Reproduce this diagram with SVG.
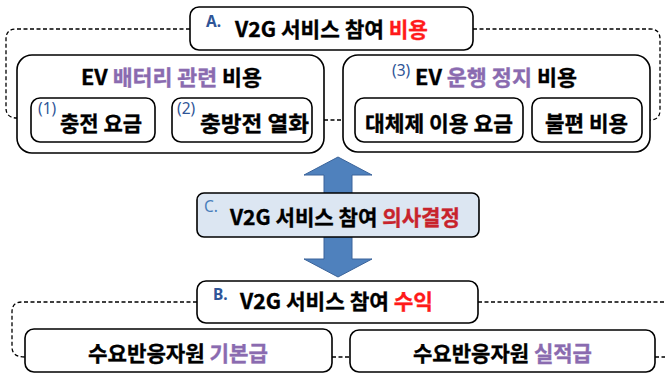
<svg xmlns="http://www.w3.org/2000/svg" width="665" height="375" viewBox="0 0 665 375">
<style>
.box{fill:#fff;stroke:#000;stroke-width:1.6}
.dash{fill:none;stroke:#000;stroke-width:1.3;stroke-dasharray:4 2.5}
.t{font-family:"Noto Sans CJK KR","Noto Sans",sans-serif;font-weight:700;font-size:21px;fill:#000;stroke:#000;stroke-width:0.35}
.s{font-family:"Noto Sans","Noto Sans CJK KR",sans-serif;font-size:15.5px;fill:#2f5597}
.red{fill:#ff1a1a;stroke:#ff1a1a}
.dred{fill:#c8232c;stroke:#c8232c}
.pur{fill:#8a6bb0;stroke:#8a6bb0}
</style>
<g id="connectors">
<path class="dash" d="M190,29 H16 Q6,29 6,39 V108 Q6,118 17,118"/>
<path class="dash" d="M473,29 H650 Q660,29 660,39 V110 Q660,120 650,120"/>
<path class="dash" d="M324,120 H343"/>
<path class="dash" d="M197,302 H22 Q12,302 12,312 V347 Q12,357 25,357"/>
<path class="dash" d="M478,302 H665"/>
<path class="dash" d="M332,357 H350"/>
<path class="dash" d="M655,357 H665"/>
<path id="arrow" d="M338,157 L372,175 L352,175 L352,259 L372,259 L338,277 L304,259 L324,259 L324,175 L304,175 Z" fill="#4f81bd" stroke="#3a639a" stroke-width="1"/>
</g>
<g id="nodeA">
<rect class="box" x="190" y="7" width="283" height="43" rx="9"/>
<text class="s" x="206" y="27" style="font-weight:700">A.</text>
<text class="t" x="235" y="37" textLength="193" lengthAdjust="spacingAndGlyphs">V2G 서비스 참여 <tspan class="red">비용</tspan></text>
</g>
<g id="nodeBattery">
<rect class="box" x="17" y="55" width="307" height="98" rx="15"/>
<text class="t" x="81" y="85" textLength="181" lengthAdjust="spacingAndGlyphs">EV <tspan class="pur">배터리 관련</tspan> 비용</text>
</g>
<g id="node1">
<rect class="box" x="31" y="98" width="124" height="44" rx="9"/>
<text class="s" x="38" y="114">(1)</text>
<text class="t" x="60" y="131" textLength="82" lengthAdjust="spacingAndGlyphs">충전 요금</text>
</g>
<g id="node2">
<rect class="box" x="172" y="98" width="140" height="44" rx="9"/>
<text class="s" x="177" y="114">(2)</text>
<text class="t" x="200" y="131" textLength="109" lengthAdjust="spacingAndGlyphs">충방전 열화</text>
</g>
<g id="nodeStop">
<rect class="box" x="343" y="55" width="307" height="97" rx="15"/>
<text class="s" x="392" y="76">(3)</text>
<text class="t" x="415" y="85" textLength="162" lengthAdjust="spacingAndGlyphs">EV <tspan class="pur">운행 정지</tspan> 비용</text>
</g>
<g id="node3a">
<rect class="box" x="355" y="98" width="168" height="44" rx="9"/>
<text class="t" x="365" y="131" textLength="148" lengthAdjust="spacingAndGlyphs">대체제 이용 요금</text>
</g>
<g id="node3b">
<rect class="box" x="532" y="98" width="110" height="44" rx="9"/>
<text class="t" x="545" y="131" textLength="83" lengthAdjust="spacingAndGlyphs">불편 비용</text>
</g>
<g id="nodeC">
<rect x="197" y="193" width="282" height="44" rx="7" fill="#dce6f2" stroke="#000" stroke-width="1.6"/>
<text class="s" x="204" y="212" style="fill:#4a7ebb">C.</text>
<text class="t" x="230" y="225" textLength="230" lengthAdjust="spacingAndGlyphs">V2G 서비스 참여 <tspan class="dred">의사결정</tspan></text>
</g>
<g id="nodeB">
<rect class="box" x="197" y="281" width="281" height="42" rx="9"/>
<text class="s" x="213" y="300" style="font-weight:700">B.</text>
<text class="t" x="240" y="309" textLength="193" lengthAdjust="spacingAndGlyphs">V2G 서비스 참여 <tspan class="red">수익</tspan></text>
</g>
<g id="nodeBase">
<rect class="box" x="25" y="329" width="307" height="43" rx="9"/>
<text class="t" x="88" y="361" textLength="180" lengthAdjust="spacingAndGlyphs">수요반응자원 <tspan class="pur">기본급</tspan></text>
</g>
<g id="nodePerf">
<rect class="box" x="350" y="330" width="305" height="42" rx="9"/>
<text class="t" x="413" y="361" textLength="179" lengthAdjust="spacingAndGlyphs">수요반응자원 <tspan class="pur">실적급</tspan></text>
</g>
</svg>
